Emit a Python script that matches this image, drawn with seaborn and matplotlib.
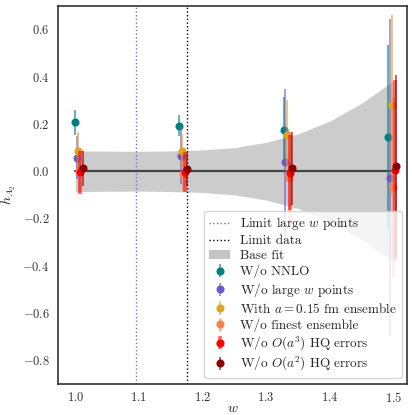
import numpy as np
import pandas as pd
import matplotlib
matplotlib.use("Agg")
import matplotlib.pyplot as plt
import seaborn as sns
from matplotlib.patches import Patch

# ---------------- data ----------------
series_labels = [
    "W/o NNLO",
    "W/o large $w$ points",
    "With $a = 0.15$ fm ensemble",
    "W/o finest ensemble",
    "W/o $O(a^3)$ HQ errors",
    "W/o $O(a^2)$ HQ errors",
]
series_colors = ["teal", "slateblue", "goldenrod", "coral", "red", "darkred"]

w_nnlo = [1.000, 1.163, 1.328, 1.492]
h_nnlo = [0.207, 0.193, 0.174, 0.146]
e_nnlo = [0.052, 0.045, 0.140, 0.390]

w_large = [1.002, 1.166, 1.330, 1.494]
h_large = [0.058, 0.065, 0.037, -0.027]
e_large = [0.092, 0.120, 0.310, 0.670]

w_a015 = [1.005, 1.168, 1.333, 1.497]
h_a015 = [0.084, 0.086, 0.153, 0.281]
e_a015 = [0.080, 0.070, 0.150, 0.380]

w_finest = [1.006, 1.170, 1.336, 1.499]
h_finest = [0.000, -0.013, -0.030, -0.067]
e_finest = [0.090, 0.070, 0.200, 0.380]

w_a3 = [1.008, 1.173, 1.337, 1.502]
h_a3 = [-0.005, -0.005, -0.006, 0.004]
e_a3 = [0.090, 0.085, 0.160, 0.380]

w_a2 = [1.012, 1.176, 1.340, 1.504]
h_a2 = [0.012, 0.008, 0.013, 0.023]
e_a2 = [0.075, 0.070, 0.155, 0.385]

band_w = [1.00, 1.05, 1.10, 1.15, 1.20, 1.25, 1.30, 1.35, 1.40, 1.45, 1.50]
band_center = [0.0, 0.0, 0.0, 0.0, 0.0, 0.0, 0.0, 0.0, 0.0, 0.0, 0.0]
band_half = [0.086, 0.085, 0.084, 0.086, 0.090, 0.100, 0.122, 0.158, 0.212, 0.288, 0.383]

limit_large_w = 1.095
limit_data = 1.175

x_ticks = [1.0, 1.1, 1.2, 1.3, 1.4, 1.5]
y_ticks = [-0.8, -0.6, -0.4, -0.2, 0.0, 0.2, 0.4, 0.6]

# ---------------- style ----------------
sns.set_theme(style="white")
plt.rcParams["font.family"] = ["cmr10", "DejaVu Serif"]
plt.rcParams["mathtext.fontset"] = "cm"
plt.rcParams["axes.formatter.use_mathtext"] = True
plt.rcParams["axes.unicode_minus"] = True

fig = plt.figure(figsize=(4.12, 4.15), dpi=100)
ax = fig.add_axes([0.141, 0.075, 0.848, 0.911])

# base fit band
band_df = pd.DataFrame({"w": band_w, "c": band_center, "h": band_half})
lo = band_df["c"] - band_df["h"]
hi = band_df["c"] + band_df["h"]
ax.fill_between(band_df["w"], lo, hi, color="#c4c4c4", alpha=0.85,
                linewidth=0, zorder=1)
sns.lineplot(data=band_df, x="w", y="c", color="#444444", linewidth=1.6,
             ax=ax, zorder=2, legend=False)

# limit lines
l1 = ax.axvline(limit_large_w, color="mediumslateblue", linestyle=":",
                linewidth=1.0, zorder=1.5)
l2 = ax.axvline(limit_data, color="black", linestyle=":", linewidth=1.0,
                zorder=1.5)

all_w = [w_nnlo, w_large, w_a015, w_finest, w_a3, w_a2]
all_h = [h_nnlo, h_large, h_a015, h_finest, h_a3, h_a2]
all_e = [e_nnlo, e_large, e_a015, e_finest, e_a3, e_a2]
elws = [1.4, 1.4, 1.4, 2.0, 2.6, 1.4]

containers = []
for i, (ws, hs, es, col, lab, elw) in enumerate(
        zip(all_w, all_h, all_e, series_colors, series_labels, elws)):
    c = ax.errorbar(ws, hs, yerr=es, fmt="o", color=col, ms=4.8,
                    elinewidth=elw, capsize=0, zorder=3 + i)
    for lc in c[2]:
        lc.set_alpha(0.6)
    containers.append(c)

ax.set_xlim(0.973, 1.522)
ax.set_ylim(-0.9, 0.7)
ax.set_xticks(x_ticks)
ax.set_yticks(y_ticks)
ax.tick_params(labelsize=9, colors="#333333", length=0, pad=6)
ax.tick_params(axis="x", pad=5)
for sp in ax.spines.values():
    sp.set_color("#333333")
    sp.set_linewidth(1.2)

ax.set_xlabel("$w$", fontsize=10, labelpad=-1.5)
ax.set_ylabel("$h_{A_2}$", fontsize=10, labelpad=3)

handles = [l1, l2, Patch(facecolor="#c4c4c4", edgecolor="none")] + containers
labels = ["Limit large $w$ points", "Limit data", "Base fit"] + series_labels
leg = ax.legend(handles, labels, loc="lower right", fontsize=9.5,
                frameon=True, framealpha=0.8, edgecolor="#cccccc",
                borderaxespad=0.45, handlelength=1.6, handletextpad=0.75,
                labelspacing=0.2, borderpad=0.35)
leg.set_zorder(20)

fig.savefig("out.png", dpi=100)
